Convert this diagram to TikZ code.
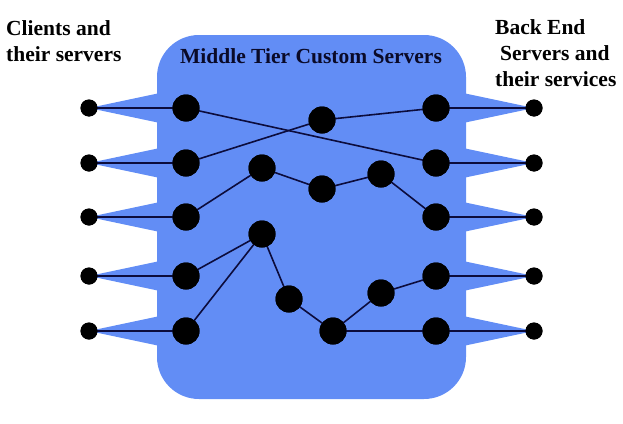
\documentclass[tikz,border=0pt]{standalone}
\usepackage{fontspec}
\setmainfont{Liberation Serif}
\definecolor{tierblue}{RGB}{98,141,245}
\definecolor{linenavy}{RGB}{12,12,60}
\definecolor{textnavy}{RGB}{10,10,40}
\begin{document}
\begin{tikzpicture}[x=1pt,y=-1pt,
  small/.style={circle,fill=black,inner sep=0pt,minimum size=17pt},
  big/.style={circle,fill=black,inner sep=0pt,minimum size=27pt},
  link/.style={draw=linenavy,line width=1.6pt},
  spike/.style={fill=tierblue},
  lbl/.style={font=\fontsize{21.5}{26}\selectfont\bfseries,inner sep=0pt,text=textnavy}]
\useasboundingbox (0,0) rectangle (623,423);
% box
\fill[tierblue,rounded corners=42pt] (157,35) rectangle (466,399);
% spikes
\foreach \y in {108,163,217,276,331}{
  \fill[spike] (160,\y-15) -- (89,\y) -- (160,\y+15) -- cycle;
  \fill[spike] (463,\y-15) -- (534,\y) -- (463,\y+15) -- cycle;
}
% nodes
\foreach \i/\y in {1/108,2/163,3/217,4/276,5/331}{
  \node[small] (ls\i) at (89,\y) {};
  \node[big] (lb\i) at (186,\y) {};
  \node[big] (rb\i) at (436,\y) {};
  \node[small] (rs\i) at (534,\y) {};
}
\node[big] (a) at (322,120) {};
\node[big] (b) at (262,168) {};
\node[big] (c) at (322,189) {};
\node[big] (d) at (381,174) {};
\node[big] (e) at (262,234) {};
\node[big] (f) at (289,299) {};
\node[big] (g) at (333,331) {};
\node[big] (h) at (381,293) {};
% connectors
\foreach \i in {1,...,5}{
  \draw[link] (ls\i.center) -- (lb\i.center);
  \draw[link] (rb\i.center) -- (rs\i.center);
}
\draw[link] (lb1.center) -- (rb2.center);
\draw[link] (lb2.center) -- (a.center) -- (rb1.center);
\draw[link] (lb3.center) -- (b.center) -- (c.center) -- (d.center) -- (rb3.center);
\draw[link] (lb4.center) -- (e.center);
\draw[link] (lb5.center) -- (e.center);
\draw[link] (e.center) -- (f.center) -- (g.center) -- (h.center) -- (rb4.center);
\draw[link] (g.center) -- (rb5.center);
% redraw nodes on top of the connectors
\foreach \n in {a,b,c,d,e,f,g,h,lb1,lb2,lb3,lb4,lb5,rb1,rb2,rb3,rb4,rb5}{
  \fill (\n) circle (13.5pt);
}
\foreach \n in {ls1,ls2,ls3,ls4,ls5,rs1,rs2,rs3,rs4,rs5}{
  \fill (\n) circle (8.5pt);
}
% labels
\node[lbl,text=black,align=left,anchor=base west] (clients) at (6,61) {Clients and\\their servers};
\node[lbl,anchor=base] (middle) at (311,63) {Middle Tier Custom Servers};
\node[lbl,text=black,align=left,anchor=base west] (backend) at (495,86) {Back End\\\hspace*{5pt}Servers and\\their services};
\end{tikzpicture}
\end{document}
